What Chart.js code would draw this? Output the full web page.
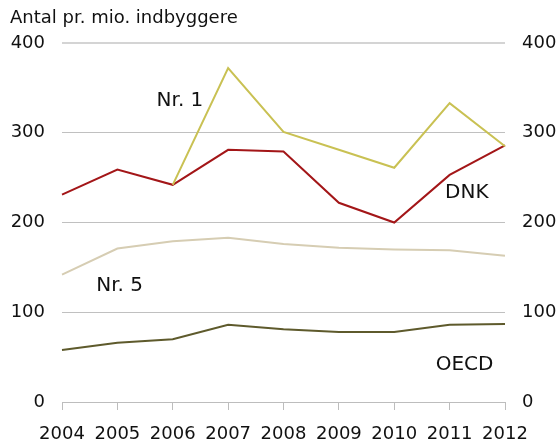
<!DOCTYPE html>
<html>
<head>
<meta charset="utf-8">
<script src="https://cdn.jsdelivr.net/npm/chart.js@4/dist/chart.umd.min.js"></script>
<style>
  html, body { margin: 0; padding: 0; background: #fff; }
  #wrap { width: 558px; height: 443px; }
</style>
</head>
<body>
<div id="wrap"><canvas id="chart" width="558" height="443"></canvas></div>
<script>
const years = ['2004', '2005', '2006', '2007', '2008', '2009', '2010', '2011', '2012'];
const nr1 = [null, null, 242, 372, 301, 281, 261, 333, 285];
const dnk = [231, 259, 242, 281, 279, 222, 200, 253, 286];
const nr5 = [142, 171, 179, 183, 176, 172, 170, 169, 163];
const oecd = [58, 66, 70, 86, 81, 78, 78, 86, 87];
const yTicks = [0, 100, 200, 300, 400];
const yTitle = 'Antal pr. mio. indbyggere';

// series labels placed in data space: [text, x index, y value]
const seriesLabels = [
	['Nr. 1', 2.13, 336],
	['DNK', 7.31, 233],
	['Nr. 5', 1.04, 129],
	['OECD', 7.27, 42],
];

const FONT = "'DejaVu Sans', sans-serif";

const labelPlugin = {
	id: 'seriesLabels',
	afterDatasetsDraw(chart) {
		const { ctx, scales } = chart;
		ctx.save();
		ctx.fillStyle = '#111';
		ctx.font = '20px ' + FONT;
		ctx.textAlign = 'center';
		ctx.textBaseline = 'middle';
		seriesLabels.forEach(([txt, xi, yv]) => {
			ctx.fillText(txt, scales.x.getPixelForValue(xi), scales.y.getPixelForValue(yv));
		});
		// axis title top-left
		ctx.font = '18px ' + FONT;
		ctx.textAlign = 'left';
		ctx.fillText(yTitle, 10, 18);
		ctx.restore();
	}
};

const line = (data, color) => ({
	data: data,
	borderColor: color,
	borderWidth: 2,
	pointRadius: 0,
	tension: 0,
	fill: false,
	spanGaps: false,
});

const yAxis = (pos, width) => ({
	position: pos,
	min: 0,
	max: 400,
	afterBuildTicks: axis => { axis.ticks = yTicks.map(v => ({ value: v })); },
	afterFit: axis => { axis.width = width; },
	border: { display: false },
	grid: {
		display: pos === 'left',
		drawTicks: false,
		color: ctx => ctx.tick && ctx.tick.value === 400 ? '#d4d4d4' : (ctx.tick && ctx.tick.value === 0 ? 'rgba(0,0,0,0)' : '#c0c0c0'),
		lineWidth: ctx => ctx.tick && ctx.tick.value === 400 ? 2 : 1,
	},
	ticks: {
		color: '#111',
		font: { family: FONT, size: 18 },
		padding: 17,
	},
});

new Chart(document.getElementById('chart'), {
	type: 'line',
	data: {
		labels: years,
		datasets: [
			line(oecd, '#5e5a2c'),
			line(nr5, '#d6cdb3'),
			line(nr1, '#c9c153'),
			line(dnk, '#a31618'),
		]
	},
	options: {
		responsive: false,
		animation: false,
		layout: { padding: { top: 43, left: 0, right: 0, bottom: 0 } },
		plugins: {
			legend: { display: false },
			tooltip: { enabled: false },
		},
		scales: {
			x: {
				offset: false,
				afterFit: axis => { axis.height = 41; },
				border: { display: true, color: '#bdbdbd', width: 1 },
				grid: {
					drawOnChartArea: false,
					drawTicks: true,
					tickLength: 8,
					color: '#bdbdbd',
				},
				ticks: {
					color: '#111',
					font: { family: FONT, size: 18 },
					padding: 14,
					maxRotation: 0,
					autoSkip: false,
				},
			},
			y: yAxis('left', 62),
			y2: yAxis('right', 53),
		}
	},
	plugins: [labelPlugin]
});
</script>
</body>
</html>
